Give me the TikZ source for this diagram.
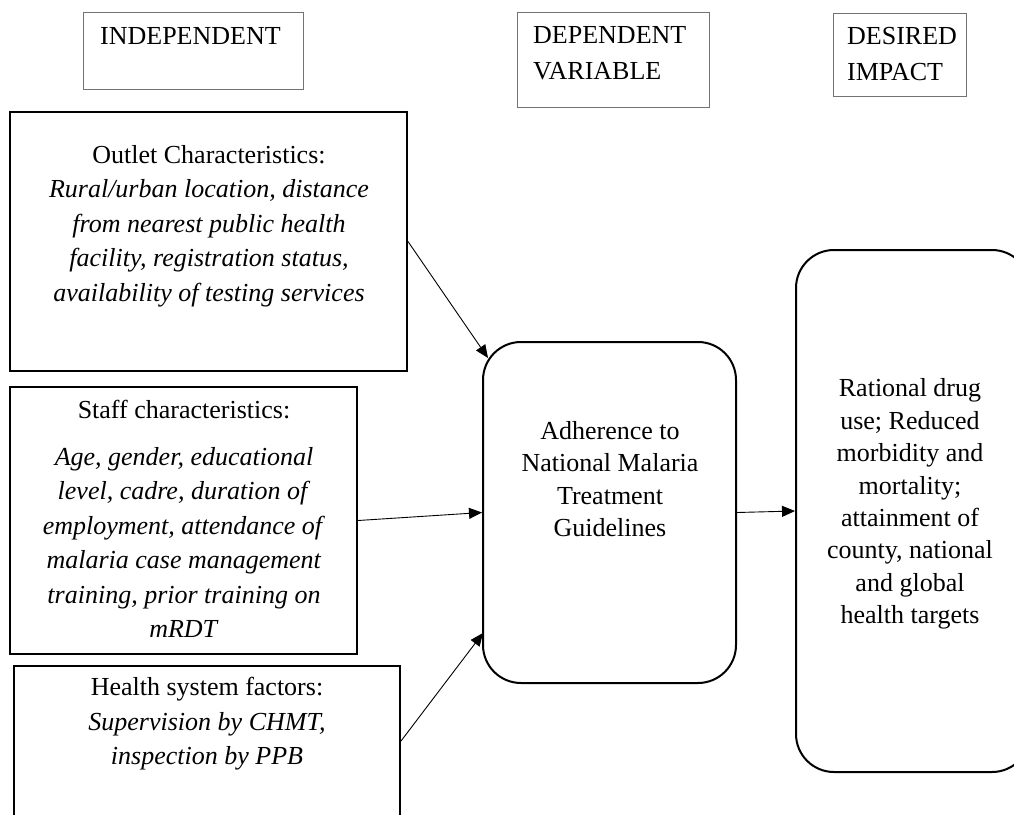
\documentclass[tikz,border=0pt]{standalone}
\usepackage{fontspec}
\setmainfont{Liberation Serif}
\usetikzlibrary{arrows.meta}
\begin{document}
\begin{tikzpicture}[x=1pt,y=-1pt,
  hdrbox/.style={draw=black!55, line width=0.9pt, rectangle, inner sep=0pt},
  factorbox/.style={draw=black, line width=2pt, rectangle, inner sep=0pt},
  roundbox/.style={draw=black, line width=2pt, rectangle, rounded corners=38pt, inner sep=0pt},
  hdrtext/.style={inner sep=0pt, align=left, font=\fontsize{26}{36}\selectfont},
  bodytext/.style={inner sep=0pt, align=center, font=\fontsize{26}{34.5}\selectfont},
  roundtext/.style={inner sep=0pt, align=center, font=\fontsize{26}{32.4}\selectfont},
  arr/.style={draw=black, line width=0.9pt, -{Triangle[length=13pt,width=11pt]}}
]
\clip (0,0) rectangle (1014,814);
\fill[white] (0,0) rectangle (1014,814);

% header boxes
\node[hdrbox, minimum width=220pt, minimum height=77pt] (indbox) at (193,50.5) {};
\node[hdrtext, anchor=north west] (indtxt) at (100,27) {INDEPENDENT};
\node[hdrbox, minimum width=192pt, minimum height=95pt] (depbox) at (613,59.5) {};
\node[hdrtext, anchor=north west] (deptxt) at (533,26) {DEPENDENT\\VARIABLE};
\node[hdrbox, minimum width=133pt, minimum height=83pt] (desbox) at (900,54.5) {};
\node[hdrtext, anchor=north west] (destxt) at (847,27) {DESIRED\\IMPACT};

% factor boxes
\node[factorbox, minimum width=397pt, minimum height=259pt] (outlet) at (208.5,241.5) {};
\node[bodytext] (outlettxt) at (209,226) {Outlet Characteristics:\\
  \textit{Rural/urban location, distance}\\
  \textit{from nearest public health}\\
  \textit{facility, registration status,}\\
  \textit{availability of testing services}};

\node[factorbox, minimum width=347pt, minimum height=267pt] (staff) at (183.5,520.5) {};
\node[bodytext] (stafftxt) at (184,519) {Staff characteristics:\\[12pt]
  \textit{Age, gender, educational}\\
  \textit{level, cadre, duration of}\\
  \textit{employment, attendance of}\\
  \textit{malaria case management}\\
  \textit{training, prior training on}\\
  \textit{mRDT}};

\node[factorbox, minimum width=386pt, minimum height=150pt] (health) at (207,741) {};
\node[bodytext] (healthtxt) at (207,724) {Health system factors:\\
  \textit{Supervision by CHMT,}\\
  \textit{inspection by PPB}};

% dependent variable
\node[roundbox, minimum width=253pt, minimum height=341pt] (adh) at (609.5,512.5) {};
\node[roundtext] (adhtxt) at (610,479) {Adherence to\\National Malaria\\Treatment\\Guidelines};

% impact
\node[roundbox, minimum width=234pt, minimum height=522pt] (impact) at (913,511) {};
\node[roundtext] (impacttxt) at (910,504) {Rational drug\\use; Reduced\\morbidity and\\mortality;\\attainment of\\county, national\\and global\\health targets};

% connectors
\coordinate (adhA) at (488,358);
\coordinate (adhC) at (483,633);
\draw[arr] (outlet.east) -- (adhA);
\draw[arr] (staff.east) -- (adh.west);
\draw[arr] (health.east) -- (adhC);
\draw[arr] (adh.east) -- (impact.west);
\end{tikzpicture}
\end{document}
